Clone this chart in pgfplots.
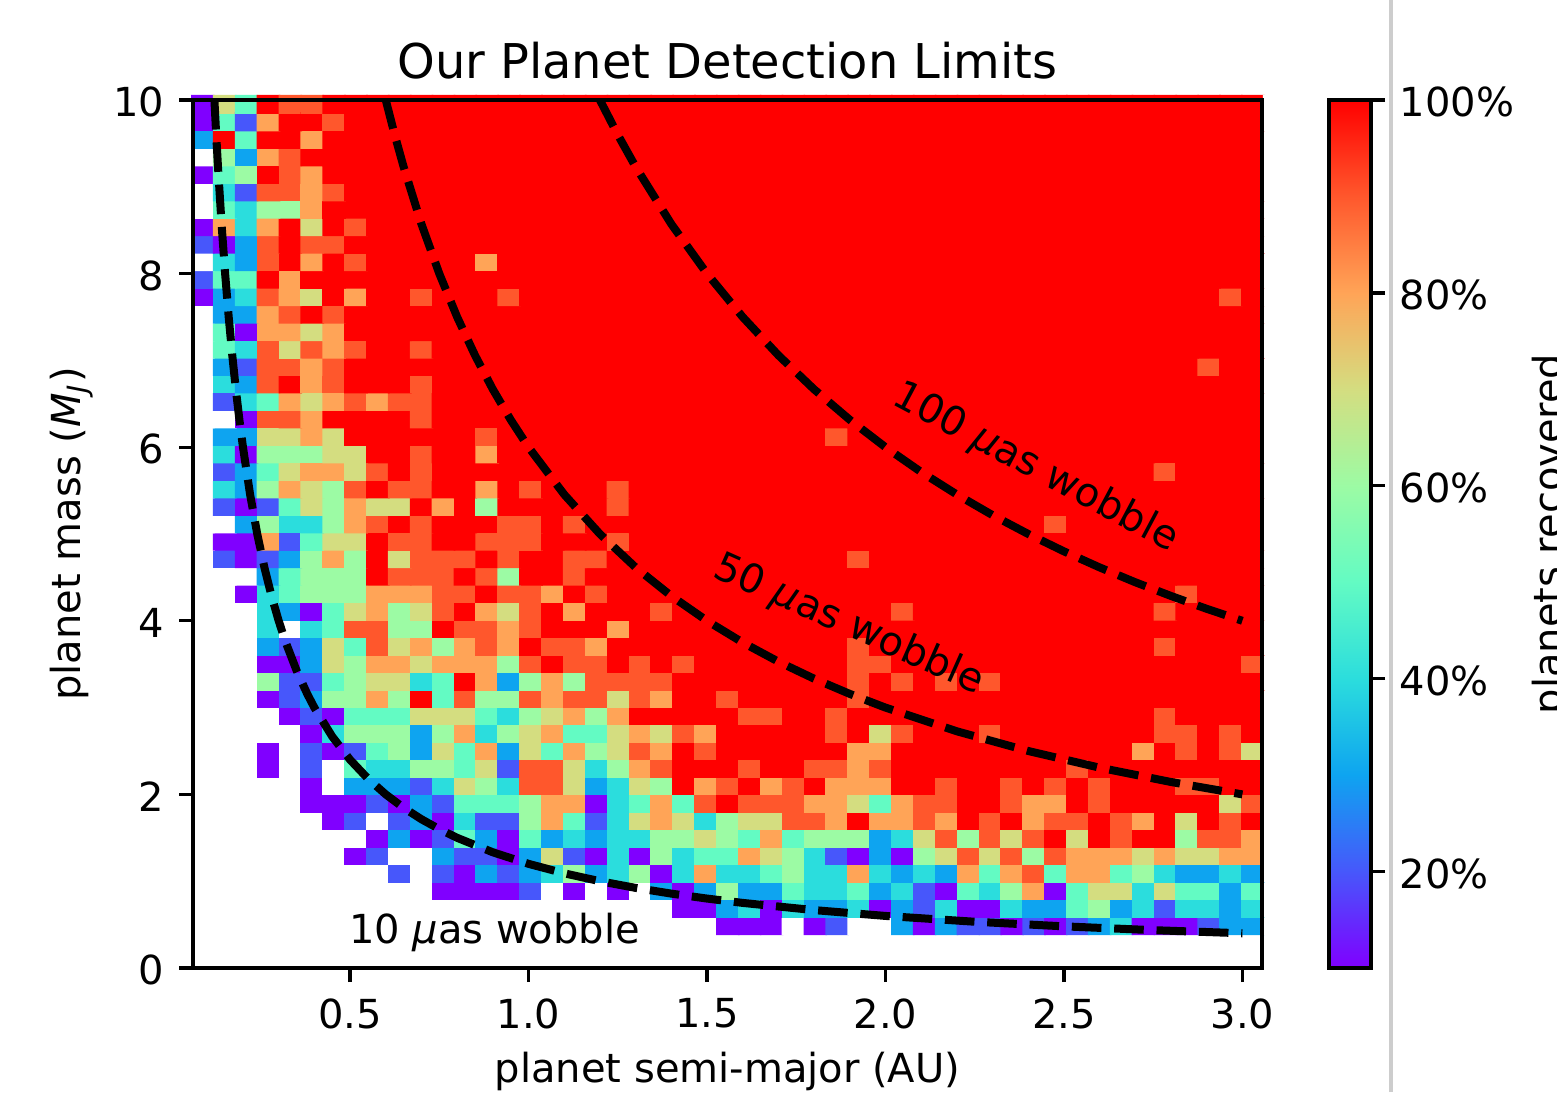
\documentclass[border=0pt]{standalone}
\usepackage{pgfplots}
\pgfplotsset{compat=1.18}
\usepackage{fontspec}
\setmainfont{DejaVu Sans}
% 0 = no value (blank cell); the first and last column of each row are blank margins
\pgfplotsset{colormap={cells}{rgb255=(255,255,255) rgb255=(128,0,255) rgb255=(71,87,251) rgb255=(14,164,240) rgb255=(43,221,221) rgb255=(99,251,195) rgb255=(156,251,164) rgb255=(212,221,128) rgb255=(255,164,87) rgb255=(255,87,44) rgb255=(255,0,0)}}
\pgfplotsset{colormap={mplrainbow}{rgb255=(128,0,255) rgb255=(71,87,251) rgb255=(14,164,240) rgb255=(43,221,221) rgb255=(99,251,195) rgb255=(156,251,164) rgb255=(212,221,128) rgb255=(255,164,87) rgb255=(255,87,44) rgb255=(255,0,0)}}
\begin{document}
\begin{tikzpicture}[x=1pt,y=1pt]
\path[use as bounding box] (-46.32,-29.76) rectangle (327.36,232.32);
\begin{scope}
\clip (-46.32,-29.76) rectangle (327.36,232.32);
\begin{axis}[
  at={(0pt,0pt)},anchor=south west,scale only axis,width=256.56pt,height=208.32pt,
  xmin=0.06,xmax=3.055,ymin=0,ymax=10,
  clip=false,
  axis on top,
  tick align=outside,tick pos=lower,
  major tick length=3.36pt,
  every tick/.style={black,line width=0.77pt},
  axis line style={line width=0.77pt},
  xtick={0.5,1,1.5,2,2.5,3},ytick={0,2,4,6,8,10},
  /pgf/number format/assume math mode=true,
  xticklabel style={/pgf/number format/fixed,/pgf/number format/fixed zerofill,/pgf/number format/precision=1,yshift=-0.4pt},
  yticklabel style={yshift=-0.5pt},
  tick label style={font=\fontsize{9.6}{11}\selectfont},
  title={Our Planet Detection Limits},
  title style={font=\fontsize{11.5}{13}\selectfont,at={(axis description cs:0.5,1)},anchor=base,yshift=-0.9pt,inner sep=0pt},
  xlabel={planet semi-major (AU)},
  xlabel style={font=\fontsize{9.6}{11}\selectfont,at={(axis description cs:0.5,0)},anchor=base,yshift=-27.4pt,inner sep=0pt},
  ylabel={planet mass (\textit{M}\textsubscript{\textit{J}})},
  every axis y label/.style={at={(axis description cs:-0.1048,0.5)},rotate=90,anchor=base,inner sep=0pt,font=\fontsize{9.6}{11}\selectfont},
  colormap name=cells,
  point meta min=0,point meta max=100,
]
\addplot[matrix plot*,mesh/cols=51,point meta=explicit] table[row sep=\\,header=false,x expr={0.02642+0.06128*mod(\coordindex,51)},y expr={0.4889+0.2013*floor((\coordindex+0.5)/51)},meta index=0]{
0\\0\\0\\0\\0\\0\\0\\0\\0\\0\\0\\0\\0\\0\\0\\0\\0\\0\\0\\0\\0\\0\\0\\0\\0\\10\\10\\10\\0\\10\\20\\0\\0\\30\\10\\30\\20\\20\\10\\20\\10\\20\\30\\40\\10\\10\\10\\20\\30\\30\\0\\
0\\0\\0\\0\\0\\0\\0\\0\\0\\0\\0\\0\\0\\0\\0\\0\\0\\0\\0\\0\\0\\0\\0\\10\\10\\30\\40\\10\\40\\30\\30\\40\\10\\30\\20\\40\\10\\10\\40\\30\\30\\50\\60\\30\\40\\20\\40\\40\\30\\40\\0\\
0\\0\\0\\0\\0\\0\\0\\0\\0\\0\\0\\0\\10\\10\\10\\10\\20\\0\\10\\0\\10\\0\\30\\10\\30\\60\\30\\30\\50\\40\\40\\50\\30\\40\\20\\10\\50\\40\\60\\80\\10\\50\\70\\70\\40\\70\\50\\50\\30\\50\\0\\
0\\0\\0\\0\\0\\0\\0\\0\\0\\0\\20\\0\\20\\10\\30\\20\\30\\40\\60\\30\\40\\60\\10\\40\\80\\40\\40\\50\\60\\40\\40\\80\\40\\30\\40\\30\\80\\50\\80\\90\\50\\80\\80\\50\\60\\40\\30\\30\\40\\30\\0\\
0\\0\\0\\0\\0\\0\\0\\0\\10\\20\\0\\0\\30\\20\\20\\10\\30\\70\\20\\10\\40\\10\\60\\40\\50\\50\\80\\70\\60\\40\\20\\10\\30\\10\\60\\70\\90\\70\\90\\60\\90\\80\\80\\80\\70\\80\\70\\70\\80\\80\\0\\
0\\0\\0\\0\\0\\0\\0\\0\\0\\10\\30\\10\\20\\50\\30\\10\\50\\30\\40\\30\\40\\40\\60\\60\\70\\60\\50\\80\\50\\60\\60\\60\\30\\40\\70\\90\\60\\90\\70\\90\\100\\70\\100\\90\\100\\100\\60\\90\\90\\80\\0\\
0\\0\\0\\0\\0\\0\\0\\10\\20\\0\\20\\30\\10\\40\\20\\20\\60\\80\\50\\20\\40\\70\\80\\70\\40\\60\\70\\70\\90\\90\\80\\100\\80\\80\\90\\80\\100\\90\\100\\80\\90\\90\\100\\90\\80\\100\\70\\100\\90\\100\\0\\
0\\0\\0\\0\\0\\0\\10\\10\\10\\20\\10\\30\\20\\50\\50\\50\\60\\80\\80\\10\\40\\50\\80\\50\\90\\100\\90\\90\\90\\80\\80\\70\\50\\80\\90\\90\\100\\100\\90\\80\\80\\100\\90\\100\\100\\100\\100\\100\\70\\90\\0\\
0\\0\\0\\0\\0\\0\\10\\0\\30\\30\\30\\20\\40\\70\\60\\40\\90\\90\\70\\30\\40\\70\\60\\100\\80\\90\\100\\80\\90\\100\\80\\80\\80\\100\\100\\90\\100\\100\\90\\100\\90\\100\\90\\100\\100\\100\\90\\90\\100\\100\\0\\
0\\0\\0\\0\\10\\0\\20\\0\\50\\40\\40\\60\\60\\50\\70\\20\\90\\90\\70\\40\\60\\80\\90\\100\\100\\100\\90\\100\\100\\90\\90\\80\\90\\100\\100\\100\\100\\100\\100\\100\\100\\90\\100\\100\\100\\100\\100\\100\\100\\100\\0\\
0\\0\\0\\0\\10\\0\\20\\10\\20\\50\\60\\30\\70\\50\\80\\30\\70\\50\\80\\60\\70\\90\\80\\100\\90\\100\\100\\100\\100\\100\\100\\80\\80\\100\\100\\100\\100\\100\\100\\100\\100\\100\\100\\100\\80\\100\\90\\100\\90\\70\\0\\
0\\0\\0\\0\\0\\0\\10\\40\\60\\60\\60\\30\\60\\80\\40\\60\\70\\80\\50\\50\\70\\80\\70\\90\\80\\100\\100\\100\\100\\100\\90\\100\\70\\90\\100\\100\\100\\90\\100\\100\\100\\100\\100\\100\\100\\90\\90\\100\\90\\100\\0\\
0\\0\\0\\0\\0\\10\\20\\10\\50\\50\\50\\70\\70\\70\\50\\40\\60\\70\\80\\60\\80\\100\\100\\100\\100\\100\\90\\90\\100\\100\\90\\100\\100\\100\\100\\100\\100\\100\\100\\100\\100\\100\\100\\100\\100\\90\\100\\100\\100\\100\\0\\
0\\0\\0\\0\\10\\20\\30\\60\\60\\80\\60\\100\\50\\90\\60\\60\\90\\80\\90\\90\\70\\90\\80\\100\\100\\90\\100\\100\\100\\100\\100\\90\\100\\100\\100\\100\\100\\100\\100\\100\\100\\100\\100\\100\\100\\100\\100\\100\\100\\100\\0\\
0\\0\\0\\0\\60\\20\\20\\50\\60\\70\\70\\40\\50\\100\\80\\30\\60\\80\\60\\90\\90\\90\\90\\100\\100\\100\\100\\100\\100\\100\\100\\90\\100\\90\\100\\90\\100\\90\\100\\100\\100\\100\\100\\100\\100\\100\\100\\100\\100\\100\\0\\
0\\0\\0\\0\\10\\10\\30\\70\\60\\80\\80\\70\\80\\80\\80\\60\\90\\100\\90\\90\\100\\90\\100\\90\\100\\100\\100\\100\\100\\100\\100\\90\\90\\100\\100\\100\\100\\100\\100\\100\\100\\100\\100\\100\\100\\100\\100\\100\\100\\90\\0\\
0\\0\\0\\0\\30\\20\\30\\70\\50\\90\\70\\80\\60\\80\\90\\80\\100\\90\\90\\80\\100\\100\\100\\100\\100\\100\\100\\100\\100\\100\\100\\90\\100\\100\\100\\100\\100\\100\\100\\100\\100\\100\\100\\100\\100\\90\\100\\100\\100\\100\\0\\
0\\0\\0\\0\\40\\0\\40\\50\\90\\90\\60\\60\\100\\90\\90\\80\\90\\100\\100\\100\\80\\100\\100\\100\\100\\100\\100\\100\\100\\100\\100\\100\\100\\100\\100\\100\\100\\100\\100\\100\\100\\100\\100\\100\\100\\100\\100\\100\\100\\100\\0\\
0\\0\\0\\0\\40\\30\\10\\50\\70\\80\\60\\70\\90\\100\\80\\70\\90\\100\\80\\100\\100\\100\\90\\100\\100\\100\\100\\100\\100\\100\\100\\100\\100\\90\\100\\100\\100\\100\\100\\100\\100\\100\\100\\100\\100\\90\\100\\100\\100\\100\\0\\
0\\0\\0\\10\\40\\50\\60\\60\\60\\80\\80\\80\\90\\90\\100\\90\\90\\80\\100\\90\\100\\100\\100\\100\\100\\100\\100\\100\\100\\100\\100\\100\\100\\100\\100\\100\\100\\100\\100\\100\\100\\100\\100\\100\\100\\100\\90\\100\\100\\100\\0\\
0\\0\\0\\0\\30\\50\\60\\60\\60\\100\\90\\90\\90\\100\\90\\60\\100\\100\\90\\100\\100\\100\\100\\100\\100\\100\\100\\100\\100\\100\\100\\100\\100\\100\\100\\100\\100\\100\\100\\100\\100\\100\\100\\100\\100\\100\\100\\100\\100\\100\\0\\
0\\0\\20\\10\\20\\30\\60\\80\\60\\100\\70\\90\\90\\90\\100\\90\\100\\100\\90\\90\\100\\100\\100\\100\\100\\100\\100\\100\\100\\100\\100\\90\\100\\100\\100\\100\\100\\100\\100\\100\\100\\100\\100\\100\\100\\100\\100\\100\\100\\100\\0\\
0\\0\\10\\10\\80\\20\\50\\70\\70\\100\\90\\90\\100\\100\\90\\90\\90\\100\\100\\100\\90\\100\\100\\100\\100\\100\\100\\100\\100\\100\\100\\100\\100\\100\\100\\100\\100\\100\\100\\100\\100\\100\\100\\100\\100\\100\\100\\100\\100\\100\\0\\
0\\0\\0\\30\\60\\40\\40\\60\\80\\90\\100\\90\\100\\100\\100\\90\\90\\100\\90\\100\\100\\100\\100\\100\\100\\100\\100\\100\\100\\100\\100\\100\\100\\100\\100\\100\\100\\100\\100\\100\\90\\100\\100\\100\\100\\100\\100\\100\\100\\100\\0\\
0\\0\\20\\10\\20\\50\\70\\60\\80\\70\\70\\100\\80\\100\\60\\100\\100\\100\\100\\100\\90\\100\\100\\100\\100\\100\\100\\100\\100\\100\\100\\100\\100\\100\\100\\100\\100\\100\\100\\100\\100\\100\\100\\100\\100\\100\\100\\100\\100\\100\\0\\
0\\0\\40\\30\\60\\80\\70\\60\\90\\100\\90\\90\\100\\100\\80\\100\\90\\100\\100\\100\\90\\100\\100\\100\\100\\100\\100\\100\\100\\100\\100\\100\\100\\100\\100\\100\\100\\100\\100\\100\\100\\100\\100\\100\\100\\100\\100\\100\\100\\100\\0\\
0\\0\\20\\30\\50\\70\\80\\80\\70\\90\\100\\90\\100\\100\\100\\100\\100\\100\\100\\100\\100\\100\\100\\100\\100\\100\\100\\100\\100\\100\\100\\100\\100\\100\\100\\100\\100\\100\\100\\100\\100\\100\\100\\100\\100\\90\\100\\100\\100\\100\\0\\
0\\0\\40\\10\\60\\60\\60\\70\\70\\100\\100\\90\\100\\100\\80\\100\\100\\100\\100\\100\\100\\100\\100\\100\\100\\100\\100\\100\\100\\100\\100\\100\\100\\100\\100\\100\\100\\100\\100\\100\\100\\100\\100\\100\\100\\100\\100\\100\\100\\100\\0\\
0\\0\\30\\30\\70\\70\\80\\70\\100\\100\\100\\100\\100\\100\\90\\100\\100\\100\\100\\100\\100\\100\\100\\100\\100\\100\\100\\100\\100\\100\\90\\100\\100\\100\\100\\100\\100\\100\\100\\100\\100\\100\\100\\100\\100\\100\\100\\100\\100\\100\\0\\
0\\0\\0\\10\\90\\90\\80\\100\\100\\100\\100\\90\\100\\100\\100\\100\\100\\100\\100\\100\\100\\100\\100\\100\\100\\100\\100\\100\\100\\100\\100\\100\\100\\100\\100\\100\\100\\100\\100\\100\\100\\100\\100\\100\\100\\100\\100\\100\\100\\100\\0\\
0\\0\\20\\40\\50\\80\\70\\80\\90\\80\\90\\90\\100\\100\\100\\100\\100\\100\\100\\100\\100\\100\\100\\100\\100\\100\\100\\100\\100\\100\\100\\100\\100\\100\\100\\100\\100\\100\\100\\100\\100\\100\\100\\100\\100\\100\\100\\100\\100\\100\\0\\
0\\0\\40\\30\\90\\100\\80\\90\\100\\100\\100\\90\\100\\100\\100\\100\\100\\100\\100\\100\\100\\100\\100\\100\\100\\100\\100\\100\\100\\100\\100\\100\\100\\100\\100\\100\\100\\100\\100\\100\\100\\100\\100\\100\\100\\100\\100\\100\\100\\100\\0\\
0\\0\\30\\20\\90\\90\\80\\90\\100\\100\\100\\100\\100\\100\\100\\100\\100\\100\\100\\100\\100\\100\\100\\100\\100\\100\\100\\100\\100\\100\\100\\100\\100\\100\\100\\100\\100\\100\\100\\100\\100\\100\\100\\100\\100\\100\\100\\90\\100\\100\\0\\
0\\0\\50\\40\\90\\70\\90\\80\\90\\100\\100\\90\\100\\100\\100\\100\\100\\100\\100\\100\\100\\100\\100\\100\\100\\100\\100\\100\\100\\100\\100\\100\\100\\100\\100\\100\\100\\100\\100\\100\\100\\100\\100\\100\\100\\100\\100\\100\\100\\100\\0\\
0\\0\\50\\10\\80\\80\\70\\80\\100\\100\\100\\100\\100\\100\\100\\100\\100\\100\\100\\100\\100\\100\\100\\100\\100\\100\\100\\100\\100\\100\\100\\100\\100\\100\\100\\100\\100\\100\\100\\100\\100\\100\\100\\100\\100\\100\\100\\100\\100\\100\\0\\
0\\0\\30\\30\\80\\90\\100\\90\\100\\100\\100\\100\\100\\100\\100\\100\\100\\100\\100\\100\\100\\100\\100\\100\\100\\100\\100\\100\\100\\100\\100\\100\\100\\100\\100\\100\\100\\100\\100\\100\\100\\100\\100\\100\\100\\100\\100\\100\\100\\100\\0\\
0\\10\\30\\40\\90\\80\\70\\100\\80\\100\\100\\90\\100\\100\\100\\90\\100\\100\\100\\100\\100\\100\\100\\100\\100\\100\\100\\100\\100\\100\\100\\100\\100\\100\\100\\100\\100\\100\\100\\100\\100\\100\\100\\100\\100\\100\\100\\100\\90\\100\\0\\
0\\20\\50\\50\\100\\80\\100\\100\\100\\100\\100\\100\\100\\100\\100\\100\\100\\100\\100\\100\\100\\100\\100\\100\\100\\100\\100\\100\\100\\100\\100\\100\\100\\100\\100\\100\\100\\100\\100\\100\\100\\100\\100\\100\\100\\100\\100\\100\\100\\100\\0\\
0\\0\\40\\30\\90\\100\\80\\100\\90\\100\\100\\100\\100\\100\\80\\100\\100\\100\\100\\100\\100\\100\\100\\100\\100\\100\\100\\100\\100\\100\\100\\100\\100\\100\\100\\100\\100\\100\\100\\100\\100\\100\\100\\100\\100\\100\\100\\100\\100\\100\\0\\
0\\20\\10\\30\\90\\100\\90\\90\\100\\100\\100\\100\\100\\100\\100\\100\\100\\100\\100\\100\\100\\100\\100\\100\\100\\100\\100\\100\\100\\100\\100\\100\\100\\100\\100\\100\\100\\100\\100\\100\\100\\100\\100\\100\\100\\100\\100\\100\\100\\100\\0\\
0\\10\\80\\40\\80\\100\\70\\100\\90\\100\\100\\100\\100\\100\\100\\100\\100\\100\\100\\100\\100\\100\\100\\100\\100\\100\\100\\100\\100\\100\\100\\100\\100\\100\\100\\100\\100\\100\\100\\100\\100\\100\\100\\100\\100\\100\\100\\100\\100\\100\\0\\
0\\0\\50\\40\\60\\60\\80\\100\\100\\100\\100\\100\\100\\100\\100\\100\\100\\100\\100\\100\\100\\100\\100\\100\\100\\100\\100\\100\\100\\100\\100\\100\\100\\100\\100\\100\\100\\100\\100\\100\\100\\100\\100\\100\\100\\100\\100\\100\\100\\100\\0\\
0\\0\\40\\20\\90\\90\\80\\90\\100\\100\\100\\100\\100\\100\\100\\100\\100\\100\\100\\100\\100\\100\\100\\100\\100\\100\\100\\100\\100\\100\\100\\100\\100\\100\\100\\100\\100\\100\\100\\100\\100\\100\\100\\100\\100\\100\\100\\100\\100\\100\\0\\
0\\10\\50\\60\\100\\90\\80\\100\\100\\100\\100\\100\\100\\100\\100\\100\\100\\100\\100\\100\\100\\100\\100\\100\\100\\100\\100\\100\\100\\100\\100\\100\\100\\100\\100\\100\\100\\100\\100\\100\\100\\100\\100\\100\\100\\100\\100\\100\\100\\100\\0\\
0\\0\\60\\30\\80\\90\\100\\100\\100\\100\\100\\100\\100\\100\\100\\100\\100\\100\\100\\100\\100\\100\\100\\100\\100\\100\\100\\100\\100\\100\\100\\100\\100\\100\\100\\100\\100\\100\\100\\100\\100\\100\\100\\100\\100\\100\\100\\100\\100\\100\\0\\
0\\30\\100\\50\\100\\100\\80\\100\\100\\100\\100\\100\\100\\100\\100\\100\\100\\100\\100\\100\\100\\100\\100\\100\\100\\100\\100\\100\\100\\100\\100\\100\\100\\100\\100\\100\\100\\100\\100\\100\\100\\100\\100\\100\\100\\100\\100\\100\\100\\100\\0\\
0\\10\\50\\20\\80\\100\\100\\90\\100\\100\\100\\100\\100\\100\\100\\100\\100\\100\\100\\100\\100\\100\\100\\100\\100\\100\\100\\100\\100\\100\\100\\100\\100\\100\\100\\100\\100\\100\\100\\100\\100\\100\\100\\100\\100\\100\\100\\100\\100\\100\\0\\
0\\10\\70\\50\\100\\90\\90\\100\\100\\100\\100\\100\\100\\100\\100\\100\\100\\100\\100\\100\\100\\100\\100\\100\\100\\100\\100\\100\\100\\100\\100\\100\\100\\100\\100\\100\\100\\100\\100\\100\\100\\100\\100\\100\\100\\100\\100\\100\\100\\100\\0\\
};
\addplot[black,line width=1.92pt,dash pattern=on 7.1pt off 3.07pt] coordinates {(0.12,10)(0.125,9.6)(0.13,9.231)(0.14,8.571)(0.15,8)(0.16,7.5)(0.17,7.059)(0.18,6.667)(0.19,6.316)(0.2,6)(0.22,5.455)(0.24,5)(0.26,4.615)(0.28,4.286)(0.3,4)(0.32,3.75)(0.35,3.429)(0.38,3.158)(0.4,3)(0.45,2.667)(0.5,2.4)(0.55,2.182)(0.6,2)(0.65,1.846)(0.7,1.714)(0.75,1.6)(0.8,1.5)(0.9,1.333)(1,1.2)(1.1,1.091)(1.2,1)(1.3,0.923)(1.4,0.857)(1.5,0.8)(1.6,0.75)(1.8,0.667)(2,0.6)(2.25,0.533)(2.5,0.48)(2.75,0.436)(3,0.4)};
\addplot[black,line width=1.92pt,dash pattern=on 7.1pt off 3.07pt] coordinates {(0.6,10)(0.625,9.6)(0.65,9.231)(0.7,8.571)(0.75,8)(0.8,7.5)(0.85,7.059)(0.9,6.667)(0.95,6.316)(1,6)(1.1,5.455)(1.2,5)(1.3,4.615)(1.4,4.286)(1.5,4)(1.6,3.75)(1.7,3.529)(1.8,3.333)(1.9,3.158)(2,3)(2.2,2.727)(2.4,2.5)(2.6,2.308)(2.8,2.143)(3,2)};
\addplot[black,line width=1.92pt,dash pattern=on 7.1pt off 3.07pt] coordinates {(1.2,10)(1.25,9.6)(1.3,9.231)(1.4,8.571)(1.5,8)(1.6,7.5)(1.7,7.059)(1.8,6.667)(1.9,6.316)(2,6)(2.1,5.714)(2.2,5.455)(2.3,5.217)(2.4,5)(2.5,4.8)(2.6,4.615)(2.7,4.444)(2.8,4.286)(2.9,4.138)(3,4)};
\node[rotate=-28,font=\fontsize{9.6}{11}\selectfont,inner sep=0pt] at (axis cs:2.42,5.76) {100 \textit{µ}as wobble};
\node[rotate=-24,font=\fontsize{9.6}{11}\selectfont,inner sep=0pt] at (axis cs:1.898,3.95) {50 \textit{µ}as wobble};
\node[anchor=west,font=\fontsize{9.6}{11}\selectfont,inner sep=0pt] at (axis cs:0.495,0.41) {10 \textit{µ}as wobble};
\end{axis}
\begin{axis}[
  at={(272.64pt,0pt)},anchor=south west,scale only axis,width=10.08pt,height=208.32pt,
  xmin=0,xmax=1,ymin=10,ymax=100,
  axis on top,
  xtick=\empty,
  ytick={20,40,60,80,100},
  tick align=outside,ytick pos=right,yticklabel pos=right,
  major tick length=3.36pt,
  every tick/.style={black,line width=0.77pt},
  axis line style={line width=0.77pt},
  yticklabel={\pgfmathprintnumber{\tick}\%},
  yticklabel style={yshift=-0.5pt},
  /pgf/number format/assume math mode=true,
  tick label style={font=\fontsize{9.6}{11}\selectfont},
  ylabel={planets recovered},
  every axis y label/.style={at={(axis description cs:4.81,0.5)},rotate=90,anchor=north,inner sep=0pt,font=\fontsize{9.6}{11}\selectfont},
  colormap name=mplrainbow,
  point meta min=10,point meta max=100,
]
\addplot[surf,shader=interp,mesh/cols=2,point meta=y] coordinates {(0,10)(1,10)(0,20)(1,20)(0,30)(1,30)(0,40)(1,40)(0,50)(1,50)(0,60)(1,60)(0,70)(1,70)(0,80)(1,80)(0,90)(1,90)(0,100)(1,100)};
\end{axis}
\draw[color={rgb,255:red,205;green,205;blue,205},line width=0.8pt] (287.52,-29.76) -- (287.52,232.32);
\end{scope}
\end{tikzpicture}
\end{document}
